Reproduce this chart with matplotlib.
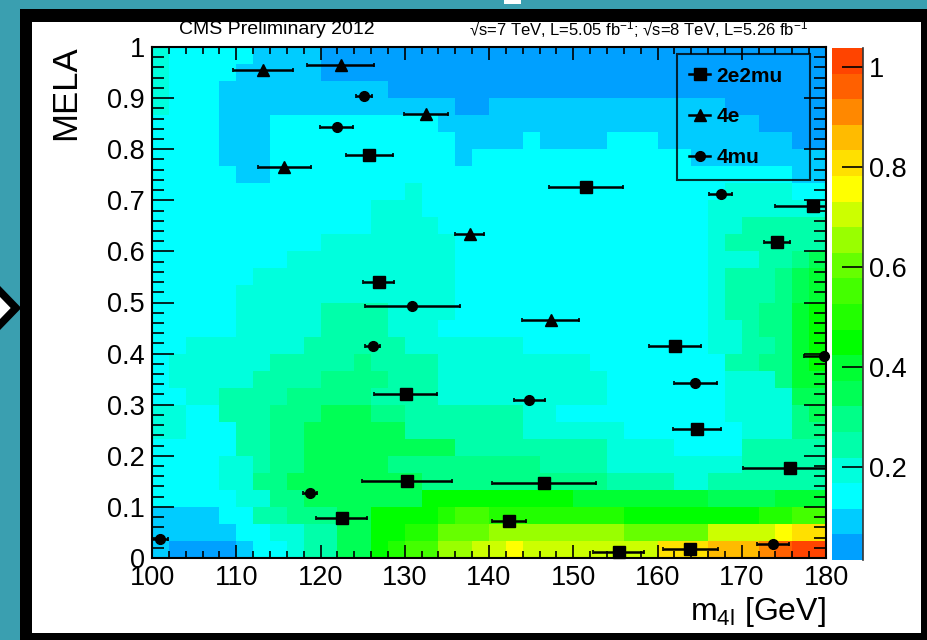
import numpy as np
import matplotlib
matplotlib.use("Agg")
import matplotlib.pyplot as plt
from matplotlib.colors import ListedColormap, BoundaryNorm
from matplotlib.lines import Line2D
from matplotlib.patches import Rectangle, Polygon
from matplotlib.ticker import AutoMinorLocator

# colour level (0..19 as base-36 digits) of each 2 GeV x 1/30 MELA cell,
# top row (MELA 0.967-1) first, groups of 5 bins from m4l = 100 GeV
level_rows = [
    "32222 21111 00000 00000 00000 00000 00000 00000",
    "32222 11111 00000 00000 00000 00000 00000 00000",
    "32221 11111 11110 00000 00000 00000 00000 00000",
    "32221 11111 11111 11100 11111 11111 11110 00000",
    "22221 11222 22222 22111 11111 11111 11111 10000",
    "22221 11222 22222 22211 11211 11222 11111 11100",
    "22221 11222 22222 22212 22222 22222 22111 11111",
    "22222 11222 22222 22222 22222 22222 22222 22211",
    "22222 22222 22222 32222 22222 22222 22223 33322",
    "22222 22222 22233 32222 22222 22222 22233 33333",
    "22222 22222 22233 33222 22222 22222 22233 44444",
    "22222 22222 33333 33322 22222 22222 22234 44444",
    "22222 22233 33333 33322 22222 22222 22233 34456",
    "22222 23333 33333 33322 22222 22222 22234 44567",
    "22222 33333 33333 33322 22222 22222 22234 44567",
    "22222 33333 44443 33322 22222 22222 22234 45578",
    "22222 33333 44443 33222 22222 22222 22233 45578",
    "22333 33334 44444 33333 33222 22222 22233 44578",
    "23333 33444 44544 44333 33333 32222 22224 45578",
    "23333 34444 55554 44333 33333 33222 22223 33577",
    "22334 44455 55544 44333 33333 33222 22223 33366",
    "33224 44555 66655 44444 44332 22222 22223 33356",
    "33222 44556 66666 44444 44333 33322 22222 33355",
    "22222 44556 66666 66644 44444 44333 32222 44444",
    "22223 34556 66665 55555 55544 44333 33333 44444",
    "22223 35566 66666 65555 55555 55444 43344 44444",
    "22222 33556 66666 68888 88888 77777 77766 66777",
    "11112 24455 56688 889aa 99999 99988 88888 899aa",
    "11111 22334 46688 99bbb ccccc cccbb bbbdd ddeff",
    "10000 12234 46689 aaccd deddd ddddd fffgg ghijj",
]

palette = [
    "#00a0ff", "#00ccff", "#00ffff", "#00ffdd", "#00ffaa",
    "#00ff88", "#00ff55", "#00ff33", "#00ff00", "#22ff00",
    "#44ff00", "#66ff00", "#99ff00", "#ccff00", "#ffff00",
    "#ffe000", "#ffbb00", "#ff8800", "#ff6000", "#ff4400",
]
z_min, z_max = 0.014, 1.038

m4l_2e2mu = [125.8, 151.5, 178.4, 174.2, 126.9, 162.1, 130.1, 164.7, 175.7, 130.3, 146.5, 122.5, 142.4, 155.4, 163.9]
mela_2e2mu = [0.789, 0.727, 0.688, 0.618, 0.541, 0.414, 0.321, 0.252, 0.176, 0.150, 0.147, 0.079, 0.072, 0.011, 0.018]
err_2e2mu = [2.75, 4.35, 4.4, 1.5, 1.8, 3.1, 3.75, 2.85, 5.5, 5.35, 6.2, 3.0, 2.05, 3.0, 3.3]

m4l_4e = [113.2, 122.4, 132.5, 115.7, 137.7, 147.3]
mela_4e = [0.955, 0.965, 0.868, 0.766, 0.634, 0.465]
err_4e = [3.55, 4.0, 2.6, 3.15, 1.7, 3.35]

m4l_4mu = [125.2, 121.9, 167.5, 130.9, 126.2, 179.75, 164.5, 144.8, 118.75, 173.7, 100.9]
mela_4mu = [0.904, 0.844, 0.712, 0.493, 0.414, 0.396, 0.343, 0.310, 0.128, 0.027, 0.038]
err_4mu = [0.95, 2.0, 1.4, 5.65, 0.9, 2.4, 2.55, 1.85, 0.8, 1.85, 0.95]

x_ticks = [100, 110, 120, 130, 140, 150, 160, 170, 180]
y_ticks = [0, 0.1, 0.2, 0.3, 0.4, 0.5, 0.6, 0.7, 0.8, 0.9, 1.0]
y_ticklabels = ["0", "0.1", "0.2", "0.3", "0.4", "0.5", "0.6", "0.7", "0.8", "0.9", "1"]
z_ticks = [0.2, 0.4, 0.6, 0.8, 1.0]
z_ticklabels = ["0.2", "0.4", "0.6", "0.8", "1"]


def main() -> None:
    plt.rcParams.update(
        {
            "font.family": ["Liberation Sans", "DejaVu Sans"],
            "mathtext.fontset": "custom",
            "mathtext.rm": "Liberation Sans",
            "mathtext.it": "Liberation Sans",
            "mathtext.bf": "Liberation Sans:bold",
        }
    )
    W, H = 927, 640
    fig = plt.figure(figsize=(W / 100, H / 100), dpi=100, facecolor="#3a9fb0")

    # slide decoration: arrow stub, black frame, white canvas
    fig.patches.append(Polygon([(16 / W, 1 - 308 / H), (-45 / W, 1 - 245 / H), (-45 / W, 1 - 371 / H)],
                               closed=True, facecolor="white", edgecolor="black", lw=5.5,
                               transform=fig.transFigure, zorder=-3))
    fig.patches.append(Rectangle((20 / W, 0), 1, 1 - 9 / H, transform=fig.transFigure,
                                 facecolor="black", edgecolor="none", zorder=-2))
    fig.patches.append(Rectangle((32 / W, 1 - 633 / H), 889 / W, 611 / H, transform=fig.transFigure,
                                 facecolor="white", edgecolor="none", zorder=-1))
    fig.patches.append(Rectangle((504 / W, 1 - 4 / H), 17 / W, 4 / H, transform=fig.transFigure,
                                 facecolor="white", edgecolor="none", zorder=-1))

    ax = fig.add_axes([152 / W, 1 - 558 / H, 674 / W, 511 / H])
    cax = fig.add_axes([832 / W, 1 - 560 / H, 31 / W, 512 / H])

    levels = np.array([[int(c, 36) for c in row.replace(" ", "")] for row in level_rows])
    dz = (z_max - z_min) / len(palette)
    z = z_min + (levels[::-1] + 0.5) * dz
    cmap = ListedColormap(palette)
    norm = BoundaryNorm(np.linspace(z_min, z_max, len(palette) + 1), cmap.N)
    x_edges = np.linspace(100, 180, levels.shape[1] + 1)
    y_edges = np.linspace(0, 1, levels.shape[0] + 1)
    mesh = ax.pcolormesh(x_edges, y_edges, z, cmap=cmap, norm=norm, zorder=0)

    for xs, ys, es, mk, ms in [
        (m4l_2e2mu, mela_2e2mu, err_2e2mu, "s", 8),
        (m4l_4e, mela_4e, err_4e, "^", 8),
        (m4l_4mu, mela_4mu, err_4mu, "o", 7),
    ]:
        ax.errorbar(xs, ys, xerr=es, fmt="none", ecolor="black", elinewidth=1.8,
                    capsize=1.5, capthick=1.2, zorder=3)
        ax.plot(xs, ys, mk, color="black", ms=ms, clip_on=False, zorder=4)

    ax.set_xlim(100, 180)
    ax.set_ylim(0, 1)
    ax.set_xticks(x_ticks)
    ax.set_xticklabels([str(t) for t in x_ticks])
    ax.set_yticks(y_ticks)
    ax.set_yticklabels(y_ticklabels)
    ax.xaxis.set_minor_locator(AutoMinorLocator(5))
    ax.yaxis.set_minor_locator(AutoMinorLocator(5))
    ax.tick_params(which="both", direction="in", top=True, right=True, width=1.2,
                   color="black", labelsize=19.5)
    ax.tick_params(axis="x", which="major", length=9.5, pad=5)
    ax.tick_params(axis="x", which="minor", length=5)
    ax.tick_params(axis="y", which="major", length=16, pad=5)
    ax.tick_params(axis="y", which="minor", length=8.5)
    for s in ax.spines.values():
        s.set_linewidth(1.5)

    handles = [
        Line2D([], [], color="black", marker="s", ms=8, lw=1.8, label="2e2mu"),
        Line2D([], [], color="black", marker="^", ms=8, lw=1.8, label="4e"),
        Line2D([], [], color="black", marker="o", ms=7, lw=1.8, label="4mu"),
    ]
    leg = ax.legend(handles=handles, loc="upper left", mode="expand",
                    bbox_to_anchor=(0.7785, 0.7436, 0.1978, 0.2427), borderaxespad=0,
                    prop={"weight": "bold", "size": 15}, frameon=True, fancybox=False,
                    handlelength=1.0, handletextpad=0.3, labelspacing=1.05, borderpad=0.6)
    leg.get_frame().set_facecolor("none")
    leg.get_frame().set_edgecolor("black")
    leg.get_frame().set_linewidth(1.5)

    cb = fig.colorbar(mesh, cax=cax, ticks=z_ticks)
    cb.ax.set_yticklabels(z_ticklabels)
    cb.outline.set_visible(False)
    cax.plot([1, 1], [0, 1], transform=cax.transAxes, color="#333333", lw=1.2, clip_on=False)
    cax.tick_params(axis="y", direction="in", length=15, width=1.2, right=True, left=False,
                    labelright=True, labelleft=False, pad=4, labelsize=19.5)
    cax.minorticks_off()

    fig.text(66 / W, 1 - 45 / H, "MELA", rotation=90, ha="center", va="top", fontsize=25)
    fig.text(826 / W, 1 - 612 / H, r"m$_{4l}$ [GeV]", ha="right", va="center", fontsize=23)
    fig.text(277 / W, 1 - 29 / H, "CMS Preliminary 2012", ha="center", va="center", fontsize=14)
    fig.text(639 / W, 1 - 29 / H, r"√s=7 TeV, L=5.05 fb$^{-1}$; √s=8 TeV, L=5.26 fb$^{-1}$",
             ha="center", va="center", fontsize=12)

    fig.savefig("out.png", dpi=100, facecolor=fig.get_facecolor())
    plt.close(fig)


if __name__ == "__main__":
    main()
